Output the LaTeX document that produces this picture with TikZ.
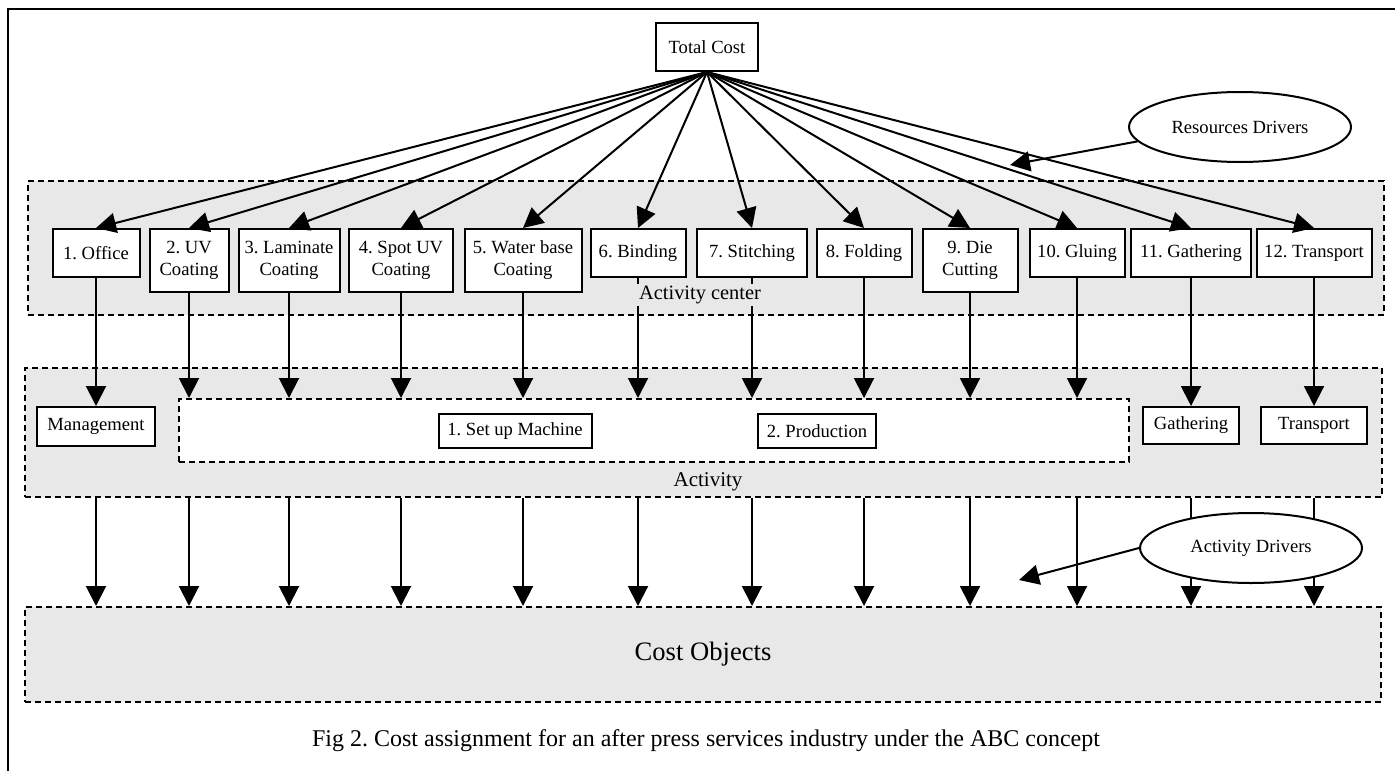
\documentclass[tikz,border=0pt]{standalone}
\usepackage{fontspec}
\setmainfont{Liberation Serif}
\usetikzlibrary{arrows.meta,shapes.geometric}
\frenchspacing

\definecolor{regiongray}{RGB}{232,232,232}

\tikzset{
  box/.style={draw, fill=white, line width=1pt, align=center, inner sep=1pt,
    font=\fontsize{9.3}{11}\selectfont},
  region/.style={draw, dash pattern=on 3pt off 2pt, line width=1pt,
    fill=regiongray, inner sep=0pt},
  arr/.style={line width=1pt, -{Triangle[length=10pt,width=10pt]}},
  driver/.style={draw, ellipse, fill=white, line width=1pt, inner sep=0pt,
    minimum width=111pt, minimum height=35pt, font=\fontsize{9.3}{11}\selectfont},
}

\begin{document}
\begin{tikzpicture}[x=0.5pt,y=-0.5pt]
                \useasboundingbox (0,0) rectangle (1395,771);
                % Frame
                \draw[line width=1pt] (8,771) -- (8,9) -- (1395,9);

                % Regions
                \node[region, minimum width=678pt, minimum height=67pt] (center) at (706,248) {};
                \node[region, minimum width=678.5pt, minimum height=64.5pt] (act) at (703.5,432.5) {};
                \node[region, fill=white, minimum width=475pt, minimum height=31.5pt] (inner) at (654,430.5) {};
                \node[region, minimum width=678pt, minimum height=47.5pt,
                  font=\fontsize{13.3}{15}\selectfont] (cost) at (703,654.5) {Cost Objects};

                % Nodes
                \node[box, minimum width=51pt, minimum height=24pt] (tc) at (707,47) {Total Cost};
                \node[driver] (rd) at (1240,127) {Resources Drivers};

                \node[box, anchor=north, minimum width=43.5pt, minimum height=24pt] (b1) at (96,228) {1. Office};
                \node[box, anchor=north, minimum width=39.5pt, minimum height=31.5pt] (b2) at (189,228) {2. UV\\Coating};
                \node[box, anchor=north, minimum width=50.5pt, minimum height=31.5pt] (b3) at (289,228) {3. Laminate\\Coating};
                \node[box, anchor=north, minimum width=52pt, minimum height=31.5pt] (b4) at (401,228) {4. Spot UV\\Coating};
                \node[box, anchor=north, minimum width=58.5pt, minimum height=31.5pt] (b5) at (523,228) {5. Water base\\Coating};
                \node[box, anchor=north, minimum width=47.5pt, minimum height=24pt] (b6) at (638,228) {6. Binding};
                \node[box, anchor=north, minimum width=55pt, minimum height=24pt] (b7) at (752,228) {7. Stitching};
                \node[box, anchor=north, minimum width=47.5pt, minimum height=24pt] (b8) at (864,228) {8. Folding};
                \node[box, anchor=north, minimum width=47.5pt, minimum height=31.5pt] (b9) at (970,228) {9. Die\\Cutting};
                \node[box, anchor=north, minimum width=47.5pt, minimum height=24pt] (b10) at (1077,228) {10. Gluing};
                \node[box, anchor=north, minimum width=60pt, minimum height=24pt] (b11) at (1191,228) {11. Gathering};
                \node[box, anchor=north, minimum width=57.5pt, minimum height=24pt] (b12) at (1314,228) {12. Transport};

                \node[box, anchor=north, minimum width=59pt, minimum height=19.5pt] (mgmt) at (96,406) {Management};
                \node[box, anchor=north, minimum width=76.5pt, minimum height=17pt] (setup) at (515,413) {1. Set up Machine};
                \node[box, anchor=north, minimum width=59pt, minimum height=17pt] (prod) at (817,413) {2. Production};
                \node[box, anchor=north, minimum width=48pt, minimum height=18.5pt] (gath) at (1191,406) {Gathering};
                \node[box, anchor=north, minimum width=53pt, minimum height=18.5pt] (trans) at (1314,406) {Transport};

                \coordinate (rdtip) at (1010,165);
                \coordinate (adtip) at (1019,580);

                % Edges
                \foreach \i in {1,...,12}
                  \draw[arr] (tc.south) -- (b\i.north);
                \draw[arr] (rd.188) -- (rdtip);

                \draw[arr] (b1.south) -- (mgmt.north);
                \foreach \i in {2,...,10}
                  \draw[arr] (b\i.south) -- (b\i.south |- inner.north);
                \draw[arr] (b11.south) -- (gath.north);
                \draw[arr] (b12.south) -- (trans.north);

                \foreach \i in {1,...,12}
                  \draw[arr] (b\i.south |- act.south) -- (b\i.south |- cost.north);

                \node[driver] (ad) at (1251,548) {Activity Drivers};
                \draw[arr] (ad.west) -- (adtip);

                % Labels
                \node[fill=regiongray, inner sep=1pt, font=\fontsize{10.2}{12}\selectfont] (centerlabel) at (700,295) {Activity center};
                \node[font=\fontsize{10.5}{12}\selectfont] (actlabel) at (708,482) {Activity};
                \node[font=\fontsize{12}{14}\selectfont] (caption) at (706,741)
                  {Fig 2. Cost assignment for an after press services industry under the ABC concept};
            \end{tikzpicture}
\end{document}
